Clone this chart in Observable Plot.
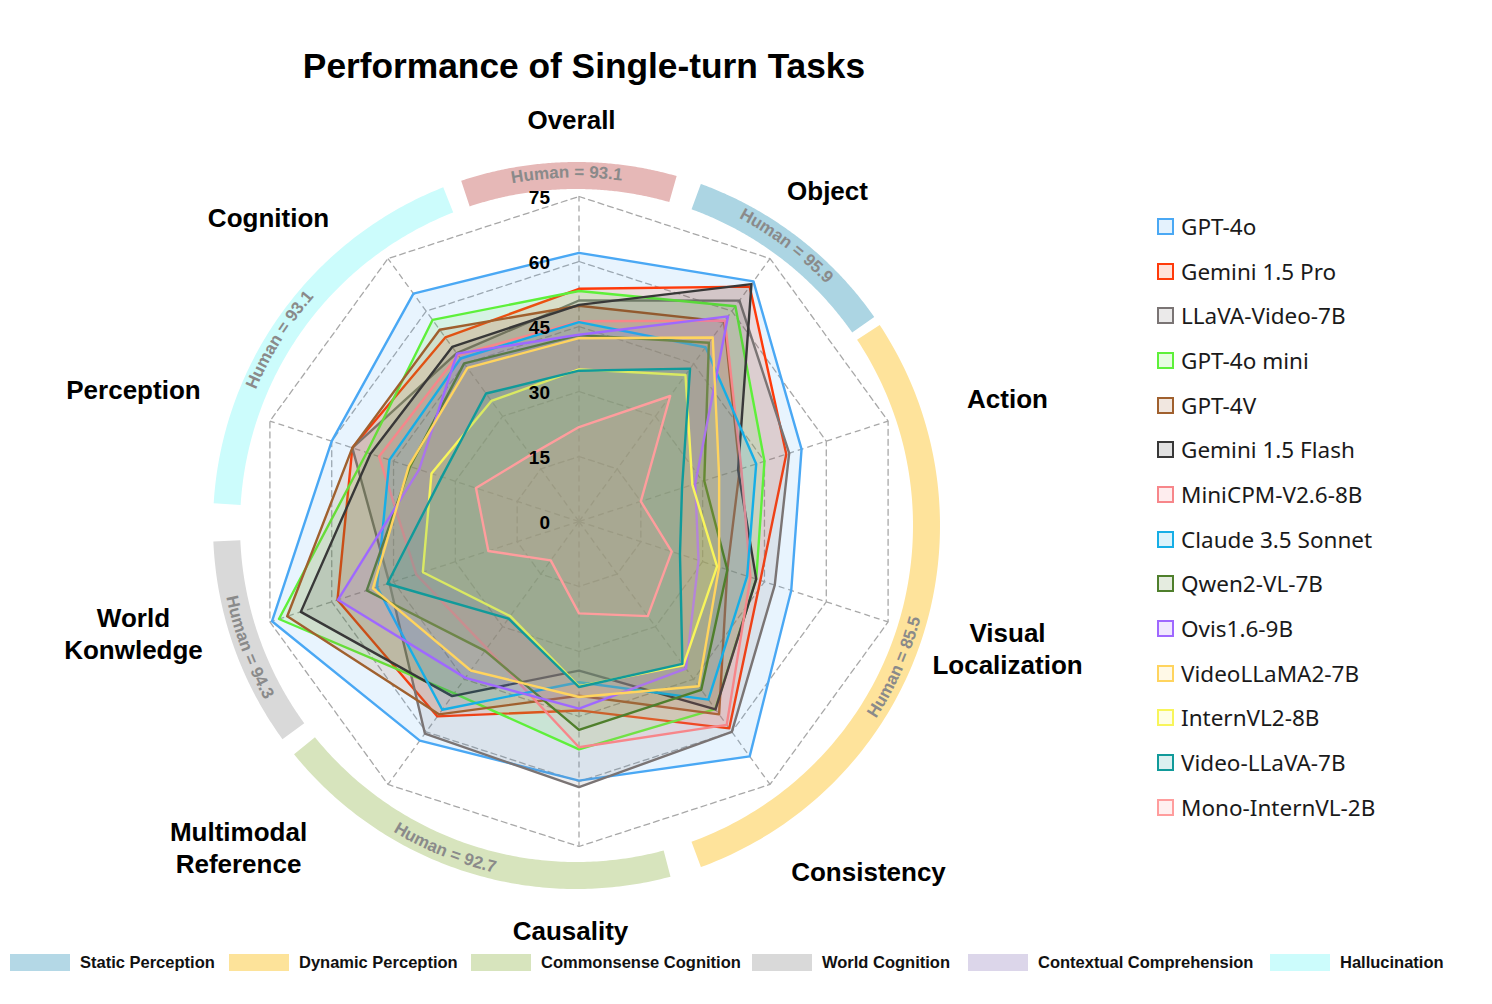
<!DOCTYPE html>
<html><head><meta charset="utf-8">
<script src="https://cdn.jsdelivr.net/npm/d3@7"></script>
<script src="https://cdn.jsdelivr.net/npm/@observablehq/plot@0.6"></script>
<style>
body{margin:0;background:#fff;}
#wrap{position:relative;width:1492px;height:1004px;overflow:hidden;background:#fff;font-family:"Liberation Sans",Arial,sans-serif;}
#title{position:absolute;left:0;width:1168px;top:46px;line-height:40px;text-align:center;font-weight:bold;font-size:35.3px;color:#000;}
#chart{position:absolute;left:0;top:0;}
#legend{position:absolute;left:1157px;top:204px;font-family:"Noto Sans",sans-serif;font-size:22.5px;color:#1a1a1a;}
#legend .row{height:44.7px;display:flex;align-items:center;}
#legend .sw{width:13px;height:13px;border:2px solid;margin-right:7px;box-sizing:content-box;}
#bottom{position:absolute;left:0;top:952px;width:1492px;height:20px;font-weight:bold;font-size:16.5px;color:#111;}
#bottom .item{position:absolute;top:0;display:flex;align-items:center;height:20px;white-space:nowrap;}
#bottom .sw{width:60px;height:17px;margin-right:10px;}
</style></head>
<body>
<div id="wrap">
  <div id="chart"></div>
  <div id="title">Performance of Single-turn Tasks</div>
  <div id="legend"></div>
  <div id="bottom"></div>
</div>
<script>
// ---------------- data ----------------
const axisNames = ["Overall","Object","Action","Visual\nLocalization","Consistency","Causality","Multimodal\nReference","World\nKonwledge","Perception","Cognition"];
const tickValues = [0, 15, 30, 45, 60, 75];
const models = ["GPT-4o","Gemini 1.5 Pro","LLaVA-Video-7B","GPT-4o mini","GPT-4V","Gemini 1.5 Flash","MiniCPM-V2.6-8B","Claude 3.5 Sonnet","Qwen2-VL-7B","Ovis1.6-9B","VideoLLaMA2-7B","InternVL2-8B","Video-LLaVA-7B","Mono-InternVL-2B"];
const modelColors = ["#4aa8f4","#ff3a0a","#7a7474","#5ef03a","#a0602e","#383838","#f7868a","#16aee6","#4f7f2c","#9f68ff","#ffd45e","#f8f55a","#119a9a","#ff9d9d"];
// order: Overall, Object, Action, Visual Localization, Consistency, Causality, Multimodal Reference, World Knowledge, Perception, Cognition
const gpt4o          = [62.0, 68.5, 54.0, 51.5, 67.0, 59.8, 62.5, 74.5, 60.0, 65.0];
const gemini15Pro    = [53.7, 67.0, 50.3, 44.0, 59.0, 43.6, 55.6, 58.6, 55.0, 52.5];
const llavaVideo7B   = [51.0, 63.0, 51.0, 47.5, 60.0, 61.3, 60.5, 46.0, 55.0, 48.0];
const gpt4oMini      = [53.2, 61.4, 45.0, 43.0, 53.5, 52.6, 49.0, 72.8, 51.5, 57.5];
const gpt4v          = [49.8, 57.0, 39.0, 36.0, 55.0, 40.2, 55.0, 70.8, 55.0, 54.7];
const gemini15Flash  = [50.0, 67.7, 38.6, 43.0, 53.6, 34.4, 49.8, 67.5, 50.6, 49.8];
const miniCPM        = [46.2, 57.3, 39.4, 41.6, 58.0, 52.1, 36.2, 39.5, 48.5, 47.5];
const claude35Sonnet = [46.0, 49.7, 43.0, 40.8, 50.8, 37.1, 53.7, 49.0, 46.0, 46.5];
const qwen2VL7B      = [43.0, 51.0, 30.4, 36.0, 48.0, 48.1, 36.9, 51.5, 41.0, 45.1];
const ovis16         = [43.1, 58.5, 28.2, 29.0, 42.0, 43.2, 44.6, 58.5, 38.8, 47.9];
const videoLLaMA2    = [42.3, 52.5, 34.0, 34.0, 47.0, 40.5, 42.5, 50.0, 41.3, 43.8];
const internVL2      = [35.1, 41.8, 27.5, 33.5, 41.0, 38.0, 27.0, 37.9, 35.8, 34.4];
const videoLLaVA7B   = [34.8, 43.6, 25.0, 24.5, 40.6, 38.2, 27.7, 46.5, 33.3, 36.5];
const monoInternVL   = [21.8, 35.8, 15.0, 22.5, 27.0, 21.2, 11.1, 22.0, 25.0, 19.0];
const seriesValues = [gpt4o, gemini15Pro, llavaVideo7B, gpt4oMini, gpt4v, gemini15Flash, miniCPM, claude35Sonnet, qwen2VL7B, ovis16, videoLLaMA2, internVL2, videoLLaVA7B, monoInternVL];

const categories = ["Static Perception","Dynamic Perception","Commonsense Cognition","World Cognition","Contextual Comprehension","Hallucination"];
const categoryColors = ["#b4d8e6","#fde39a","#d7e4bd","#d9d9d9","#dcd6ea","#ccfcfc"];

const humanLabels = ["Human = 93.1","Human = 95.9","Human = 85.5","Human = 92.7","Human = 94.3","Human = 93.1"];
const arcColors = ["#e6b8b7","#acd5e3","#fee39b","#d7e4bd","#d9d9d9","#ccfcfc"];

// ---------------- layout ----------------
const W = 1160, H = 1004, CX = 578.5, CY = 521, K = 325 / 75; // px per unit
const ARC_R = 350 / K, ARC_W = 27, ARC_DX = -2.5 / K, ARC_DY = -4 / K;
const arcRanges = [[-18.5, 16], [20, 55], [56.5, 160], [165, 231], [234, 267.5], [273.5, 338.5]];
const humanTextAngles = [-1.5, 37, 114, 202, 249.5, 302];
const LABEL_R = 410 / K;
const labelNudges = [[-7.5,7],[7.5,0],[38.6,3],[38.6,-0.7],[48.5,17.3],[-8.5,-2],[-99.5,-6.7],[-55.6,-15.7],[-55.6,-6.3],[-69.5,26.7]];
const bottomLefts = [10, 229, 471, 752, 968, 1270];

const n = axisNames.length;
const rad = d => d * Math.PI / 180;
const ang = i => i * 360 / n;
const px = (r, deg) => r * Math.sin(rad(deg));
const py = (r, deg) => r * Math.cos(rad(deg));

const polyPoints = models.flatMap((m, j) => seriesValues[j].map((v, i) => ({model: m, color: modelColors[j], x: px(v, ang(i)), y: py(v, ang(i))})));
const gridPoints = tickValues.filter(t => t > 0).flatMap(t => axisNames.map((a, i) => ({level: t, x: px(t, ang(i)), y: py(t, ang(i))})));
const arcPoints = arcRanges.flatMap(([a, b], k) => d3.range(0, 121).map(s => {
  const th = a + s / 120 * (b - a);
  return {arc: k, color: arcColors[k], x: ARC_DX + px(ARC_R, th), y: ARC_DY + py(ARC_R, th)};
}));

const font = "Liberation Sans, Arial, sans-serif";
const chart = Plot.plot({
  width: W, height: H, margin: 0,
  x: {domain: [-CX / K, (W - CX) / K], axis: null},
  y: {domain: [-(H - CY) / K, CY / K], axis: null},
  color: {type: "identity"},
  style: {fontFamily: font, background: "transparent", overflow: "visible"},
  marks: [
    Plot.line(arcPoints, {x: "x", y: "y", z: "arc", stroke: "color", strokeWidth: ARC_W, strokeLinecap: "butt", strokeLinejoin: "round"}),
    Plot.line(gridPoints, {x: "x", y: "y", z: "level", stroke: "#a8a8a8", strokeWidth: 1.3, strokeDasharray: "6,4", curve: "linear-closed"}),
    Plot.link(axisNames, {x1: 0, y1: 0, x2: (d, i) => px(75, ang(i)), y2: (d, i) => py(75, ang(i)), stroke: "#a8a8a8", strokeWidth: 1.3, strokeDasharray: "6,4"}),
    Plot.line(polyPoints, {x: "x", y: "y", z: "model", stroke: "color", fill: "color", fillOpacity: 0.13, strokeWidth: 2.4, curve: "linear-closed"}),
    Plot.text(tickValues, {x: 0, y: d => d, text: d => String(d), textAnchor: "end", dx: -29, dy: 1.5, fontWeight: "bold", fontSize: 19, fill: "#000"}),
    ...axisNames.map((a, i) => Plot.text([a], {
      x: px(LABEL_R, ang(i)), y: py(LABEL_R, ang(i)), text: d => d,
      dx: labelNudges[i][0], dy: labelNudges[i][1],
      fontWeight: "bold", fontSize: 26, lineHeight: 1.23, fill: "#000", textAnchor: "middle"
    }))
  ]
});
document.getElementById("chart").appendChild(chart);

// curved "Human = ..." labels along the arcs, positioned with the chart's own scales
const sx = chart.scale("x"), sy = chart.scale("y");
const cx0 = sx.apply(ARC_DX), cy0 = sy.apply(ARC_DY);
const svg = d3.select(chart);
const defs = svg.append("defs");
const g = svg.append("g");
humanLabels.forEach((lab, k) => {
  const th = humanTextAngles[k];
  const isTop = Math.cos(rad(th)) > 0;
  const rPx = isTop ? ARC_R * K - 2.5 : ARC_R * K + 7;
  const a0 = isTop ? th - 45 : th + 45, a1 = isTop ? th + 45 : th - 45;
  const p0 = [cx0 + rPx * Math.sin(rad(a0)), cy0 - rPx * Math.cos(rad(a0))];
  const p1 = [cx0 + rPx * Math.sin(rad(a1)), cy0 - rPx * Math.cos(rad(a1))];
  const d = `M${p0[0]},${p0[1]} A${rPx},${rPx} 0 0 ${isTop ? 1 : 0} ${p1[0]},${p1[1]}`;
  defs.append("path").attr("id", "hp" + k).attr("d", d);
  g.append("text").attr("font-family", font).attr("font-weight", "bold").attr("font-size", 17).attr("fill", "#8a8a8a")
    .append("textPath").attr("href", "#hp" + k).attr("startOffset", "50%").attr("text-anchor", "middle").text(lab);
});

// right legend
const leg = d3.select("#legend");
models.forEach((m, i) => {
  const row = leg.append("div").attr("class", "row");
  const c = d3.color(modelColors[i]); c.opacity = 0.15;
  row.append("span").attr("class", "sw").style("border-color", modelColors[i]).style("background", c.formatRgb());
  row.append("span").text(m);
});
// bottom legend
const bot = d3.select("#bottom");
categories.forEach((c, i) => {
  const it = bot.append("div").attr("class", "item").style("left", bottomLefts[i] + "px");
  it.append("span").attr("class", "sw").style("background", categoryColors[i]);
  it.append("span").text(c);
});
</script>
</body></html>
